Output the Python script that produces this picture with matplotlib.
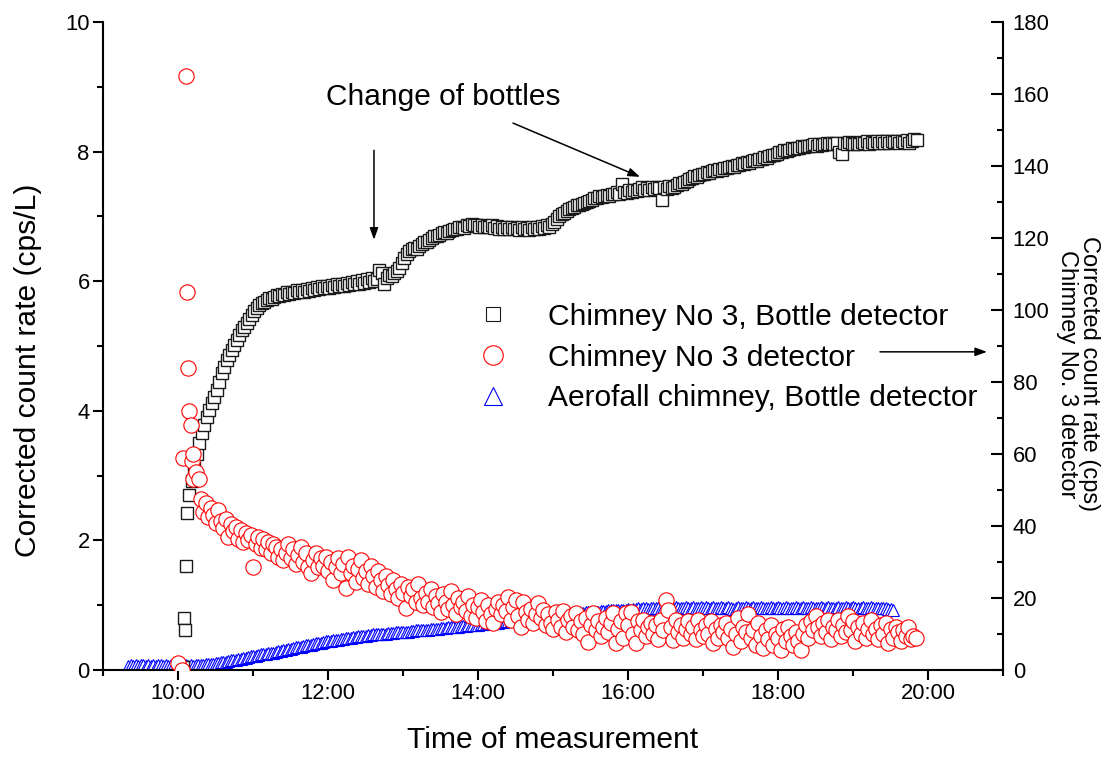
import numpy as np
import matplotlib.pyplot as plt

plt.rcParams['font.family'] = ['Liberation Sans', 'DejaVu Sans']

# time is in hours of the day, the logger wrote one value every 2 minutes
STEP = 2 / 60

# Chimney No 3, Bottle detector (cps/L, left axis)
sq_first_t = [10.07, 10.08, 10.093, 10.107, 10.12]
sq_first_v = [0.05, 0.80, 0.62, 1.60, 2.42]
sq_start = 10.15  # 10:09
sq_v = [2.70, 2.92, 3.12, 3.33, 3.50, 3.66, 3.78, 3.90, 4.02, 4.12, 4.22, 4.32, 4.45, 4.58, 4.68,
        4.78, 4.86, 4.94, 5.02, 5.09, 5.17, 5.25, 5.30, 5.35, 5.42, 5.48, 5.54, 5.58, 5.63, 5.66,
        5.68, 5.71, 5.74, 5.72, 5.76, 5.79, 5.77, 5.81, 5.78, 5.83, 5.80, 5.84, 5.82, 5.86, 5.83,
        5.87, 5.84, 5.88, 5.85, 5.90, 5.86, 5.91, 5.88, 5.92, 5.89, 5.93, 5.90, 5.94, 5.91, 5.95,
        5.92, 5.96, 5.93, 5.97, 5.94, 5.99, 5.95, 6.00, 5.96, 6.02, 5.97, 6.04, 5.99, 6.05, 6.01,
        6.03, 6.17, 6.12, 5.96, 6.05, 6.10, 6.08, 6.13, 6.16, 6.20, 6.28, 6.36, 6.42, 6.46, 6.50,
        6.52, 6.50, 6.55, 6.58, 6.61, 6.60, 6.64, 6.66, 6.69, 6.70, 6.72, 6.74, 6.76, 6.75, 6.78,
        6.79, 6.81, 6.80, 6.83, 6.84, 6.82, 6.86, 6.85, 6.88, 6.86, 6.87, 6.84, 6.86, 6.83, 6.85,
        6.83, 6.86, 6.82, 6.85, 6.81, 6.84, 6.80, 6.83, 6.81, 6.84, 6.80, 6.82, 6.79, 6.83, 6.80,
        6.82, 6.79, 6.83, 6.80, 6.84, 6.81, 6.85, 6.82, 6.86, 6.84, 6.88, 6.92, 6.96, 7.00, 7.03,
        7.06, 7.09, 7.11, 7.13, 7.15, 7.17, 7.18, 7.19, 7.21, 7.22, 7.24, 7.26, 7.28, 7.29, 7.31,
        7.30, 7.32, 7.33, 7.31, 7.35, 7.34, 7.37, 7.35, 7.50, 7.38, 7.36, 7.40, 7.38, 7.41, 7.39,
        7.42, 7.45, 7.41, 7.44, 7.40, 7.45, 7.43, 7.46, 7.44, 7.26, 7.45, 7.43, 7.47, 7.44, 7.46,
        7.48, 7.51, 7.50, 7.53, 7.55, 7.57, 7.60, 7.62, 7.61, 7.64, 7.66, 7.65, 7.68, 7.67, 7.70,
        7.71, 7.70, 7.73, 7.72, 7.75, 7.74, 7.76, 7.78, 7.77, 7.80, 7.79, 7.82, 7.81, 7.84, 7.83,
        7.85, 7.87, 7.86, 7.89, 7.88, 7.91, 7.90, 7.93, 7.95, 7.94, 7.97, 7.99, 8.00, 8.02, 8.01,
        8.03, 8.05, 8.04, 8.06, 8.05, 8.08, 8.07, 8.09, 8.08, 8.10, 8.11, 8.09, 8.12, 8.10, 8.12,
        8.13, 8.11, 8.14, 8.12, 8.13, 8.00, 7.97, 8.14, 8.12, 8.15, 8.13, 8.11, 8.14, 8.12, 8.15,
        8.13, 8.16, 8.12, 8.15, 8.14, 8.16, 8.13, 8.17, 8.14, 8.16, 8.13, 8.17, 8.15, 8.16, 8.14,
        8.17, 8.15, 8.18, 8.14, 8.17, 8.19, 8.18]

# Chimney No 3 detector (cps, right axis)
ci_first_t = [10.0, 10.05, 10.067, 10.107, 10.12, 10.133, 10.147, 10.173,
              10.187, 10.2, 10.2, 10.24, 10.28]
ci_first_v = [2, 0, 59, 165, 105, 84, 72, 68, 58, 60, 53, 55, 53]
ci_start = 10.3  # 10:18
ci_v = [47.5, 44, 46.5, 42.5, 45, 43, 40.8, 44.5, 41.5, 39.5, 42, 37, 40.5, 38.5, 39.7,
        36.5, 39, 35.5, 38, 36, 37.5, 28.6, 35, 37, 34, 36.5, 33.5, 35.6, 32.5, 35,
        34.2, 31.5, 33.5, 30.5, 32.5, 35, 31, 33.5, 29.5, 32, 34.2, 30, 32.5, 28.5, 26.9,
        30.5, 32.5, 28.5, 31, 29, 31.4, 27.5, 30, 25, 28.5, 31, 27, 29.5, 22.8, 31.4,
        26.9, 29, 24.5, 28, 30.5, 25.5, 27.5, 24, 29, 26, 23, 27.5, 25, 22, 26,
        23.5, 21, 25, 22.5, 20, 24, 21.5, 17.2, 23, 20.5, 22.5, 19, 24, 20, 18,
        21.5, 19, 22.5, 17.5, 20.5, 18.5, 16, 21, 19, 17, 22, 18, 15.5, 20, 17.5,
        19, 16.5, 20.5, 15, 18, 14.5, 17.5, 19.5, 16, 13.5, 18, 15.5, 13, 17, 19,
        15.5, 18, 16.5, 20.3, 14, 17.5, 19.4, 15, 12, 18.9, 16, 14, 17, 13, 15.5,
        18.5, 14.5, 16.7, 12.5, 15.5, 13, 11.5, 16, 14, 12, 16.5, 10.5, 13.9, 15, 12,
        15.8, 11, 13.5, 10, 14.5, 7.8, 12.5, 15.8, 11, 13.5, 9.5, 12, 14.5, 10.5, 13,
        15.8, 7.5, 11.5, 13.5, 9, 15.8, 12.5, 16.1, 10, 7.5, 13.5, 11, 14, 9.5, 12,
        13, 10, 12.5, 8.5, 14, 11, 19.4, 16.7, 12, 8.3, 13.9, 10.5, 12.5, 9, 11.5,
        13.5, 10, 12, 8.5, 14, 11, 9.5, 12.5, 10, 13.5, 7.5, 11.5, 9, 12.5, 10.5,
        13, 9, 11.5, 6.4, 10, 14.5, 8, 12, 10.5, 15.5, 9, 11, 7, 13, 9.5,
        6, 11, 8.5, 12.5, 7, 10, 9, 5.6, 11.5, 8, 12, 9.5, 7, 10.5, 8,
        5.5, 10, 12.5, 9, 13.5, 11, 15, 12, 9.5, 13, 10.5, 14, 8.5, 12, 11,
        14, 9.5, 12.5, 10.5, 15, 11, 13.5, 8, 12, 10, 13, 9, 11.5, 14, 10,
        11.5, 8.5, 12.5, 10, 13, 7.5, 11.5, 9, 12, 10.5, 8, 11, 9.5, 12, 8.5,
        9.5, 8.9]

# Aerofall chimney, Bottle detector (cps/L, left axis)
tr_start = 9 + 20 / 60  # 9:20
tr_v = [0.06, 0.07, 0.06, 0.07, 0.06, 0.07, 0.07, 0.06, 0.07, 0.06, 0.07, 0.06, 0.07, 0.07, 0.06,
        0.07, 0.06, 0.07, 0.06, 0.07, 0.06, 0.05, 0.06, 0.07, 0.06, 0.07, 0.06, 0.07, 0.08, 0.08,
        0.08, 0.09, 0.09, 0.10, 0.10, 0.11, 0.11, 0.12, 0.13, 0.13, 0.14, 0.15, 0.15, 0.16, 0.17,
        0.17, 0.18, 0.19, 0.20, 0.21, 0.21, 0.22, 0.23, 0.24, 0.25, 0.25, 0.26, 0.27, 0.27, 0.28,
        0.29, 0.30, 0.31, 0.31, 0.32, 0.33, 0.34, 0.35, 0.35, 0.36, 0.37, 0.38, 0.38, 0.39, 0.40,
        0.41, 0.42, 0.42, 0.43, 0.44, 0.45, 0.45, 0.46, 0.47, 0.47, 0.48, 0.48, 0.49, 0.50, 0.50,
        0.51, 0.51, 0.52, 0.52, 0.53, 0.53, 0.54, 0.54, 0.55, 0.55, 0.55, 0.56, 0.56, 0.56, 0.57,
        0.57, 0.57, 0.58, 0.58, 0.58, 0.59, 0.59, 0.59, 0.60, 0.60, 0.61, 0.61, 0.61, 0.62, 0.62,
        0.62, 0.63, 0.63, 0.64, 0.64, 0.65, 0.65, 0.65, 0.66, 0.66, 0.67, 0.67, 0.67, 0.68, 0.68,
        0.68, 0.69, 0.69, 0.69, 0.70, 0.70, 0.71, 0.71, 0.71, 0.72, 0.72, 0.73, 0.73, 0.73, 0.74,
        0.74, 0.75, 0.75, 0.76, 0.76, 0.77, 0.77, 0.78, 0.78, 0.79, 0.79, 0.80, 0.80, 0.80, 0.81,
        0.81, 0.82, 0.82, 0.83, 0.83, 0.84, 0.84, 0.84, 0.85, 0.85, 0.86, 0.86, 0.86, 0.87, 0.87,
        0.87, 0.88, 0.88, 0.89, 0.89, 0.89, 0.90, 0.90, 0.90, 0.91, 0.91, 0.91, 0.92, 0.92, 0.92,
        0.92, 0.93, 0.93, 0.93, 0.93, 0.94, 0.93, 0.94, 0.94, 0.95, 0.94, 0.95, 0.95, 0.94, 0.95,
        0.95, 0.96, 0.95, 0.96, 0.95, 0.96, 0.96, 0.95, 0.96, 0.97, 0.96, 0.95, 0.96, 0.97, 0.96,
        0.95, 0.97, 0.96, 0.95, 0.97, 0.96, 0.97, 0.95, 0.96, 0.97, 0.96, 0.95, 0.97, 0.96, 0.95,
        0.97, 0.96, 0.94, 0.96, 0.97, 0.95, 0.96, 0.97, 0.95, 0.96, 0.97, 0.96, 0.95, 0.97, 0.96,
        0.95, 0.96, 0.97, 0.95, 0.96, 0.97, 0.96, 0.95, 0.97, 0.96, 0.95, 0.96, 0.97, 0.95, 0.96,
        0.97, 0.96, 0.95, 0.97, 0.96, 0.95, 0.96, 0.97, 0.96, 0.95, 0.97, 0.96, 0.95, 0.96, 0.97,
        0.95, 0.96, 0.97, 0.96, 0.95, 0.97, 0.96, 0.95, 0.96, 0.97, 0.95, 0.96, 0.97, 0.96, 0.95,
        0.96, 0.95, 0.96, 0.95, 0.94, 0.94, 0.93]

hour_ticks = [10, 12, 14, 16, 18, 20]
hour_labels = ['10:00', '12:00', '14:00', '16:00', '18:00', '20:00']
labels = ['Chimney No 3, Bottle detector', 'Chimney No 3 detector',
          'Aerofall chimney, Bottle detector']

sq_t = list(sq_first_t) + list(sq_start + STEP * np.arange(len(sq_v)))
sq_all = list(sq_first_v) + sq_v
ci_t = list(ci_first_t) + list(ci_start + STEP * np.arange(len(ci_v)))
ci_all = list(ci_first_v) + ci_v
tr_t = tr_start + STEP * np.arange(len(tr_v))

fig = plt.figure(figsize=(11.11, 7.58), dpi=100)
ax = fig.add_axes([103 / 1111, 1 - 670 / 758, 900 / 1111, 648 / 758])
ax2 = ax.twinx()

l_tr, = ax.plot(tr_t, tr_v, ls='none', marker='^', ms=8.5, mfc='white', mec='#0000ff', mew=0.8)
l_sq, = ax.plot(sq_t, sq_all, ls='none', marker='s', ms=8.5, mfc='white', mec='#1a1a1a', mew=1.0)
l_ci, = ax2.plot(ci_t, ci_all, ls='none', marker='o', ms=11, mfc='white', mec='red', mew=0.8)

ax.set_xlim(9, 21)
ax.set_ylim(0, 10)
ax2.set_ylim(0, 180)

ax.set_xticks(hour_ticks, labels=hour_labels)
ax.set_xticks([9, 11, 13, 15, 17, 19, 21], minor=True)
ax.set_yticks(range(0, 11, 2))
ax.set_yticks(range(1, 10, 2), minor=True)
ax2.set_yticks(range(0, 181, 20))
ax2.set_yticks(range(10, 180, 20), minor=True)

for a in (ax, ax2):
    a.spines['top'].set_visible(False)
    for s in a.spines.values():
        s.set_linewidth(1.5)
ax.spines['right'].set_visible(False)
ax2.spines['left'].set_visible(False)
ax2.spines['bottom'].set_visible(False)

ax.tick_params(axis='both', which='major', direction='out', length=7.5, width=1.5,
               labelsize=15.8, pad=2)
ax.tick_params(axis='both', which='minor', direction='out', length=4, width=1.5)
ax2.tick_params(axis='y', which='major', direction='in', length=8.5, width=1.5,
                labelsize=15.8, pad=7)
ax2.tick_params(axis='y', which='minor', direction='in', length=4, width=1.5)

ax.set_xlabel('Time of measurement', fontsize=21.6, labelpad=16)
ax.set_ylabel('Corrected count rate (cps/L)', fontsize=21.6)
ax.yaxis.set_label_coords(-0.068, 0.463)
fig.text(1078 / 1111, 1 - 374 / 758, 'Corrected count rate (cps)\nChimney No. 3 detector',
         rotation=270, ha='center', va='center', multialignment='center',
         fontsize=17, linespacing=1.0)

arrow = dict(arrowstyle='-|>,head_length=0.5,head_width=0.18', mutation_scale=14,
             lw=1.1, color='black', shrinkA=0, shrinkB=0)
ax.text(13.533, 8.84, 'Change of bottles', ha='center', va='center', fontsize=21.5)
ax.annotate('', xy=(12.613, 6.64), xytext=(12.613, 8.02), arrowprops=arrow)
ax.annotate('', xy=(16.16, 7.61), xytext=(14.467, 8.44), arrowprops=arrow)
ax.annotate('', xy=(20.787, 4.91), xytext=(19.36, 4.91), arrowprops=arrow,
            annotation_clip=False)

leg = ax2.legend([l_sq, l_ci, l_tr], labels, loc='upper left',
                 bbox_to_anchor=(478 / 1111, 1 - 303 / 758), bbox_transform=fig.transFigure,
                 frameon=False, fontsize=21.6, handlelength=1.0,
                 handletextpad=1.35, labelspacing=0.42, borderpad=0, borderaxespad=0,
                 numpoints=1)
for h, ms in zip(leg.legend_handles, [9.5, 14, 13]):
    h.set_markersize(ms)
    h.set_markeredgewidth(0.8)

fig.savefig('out.png', dpi=100)
